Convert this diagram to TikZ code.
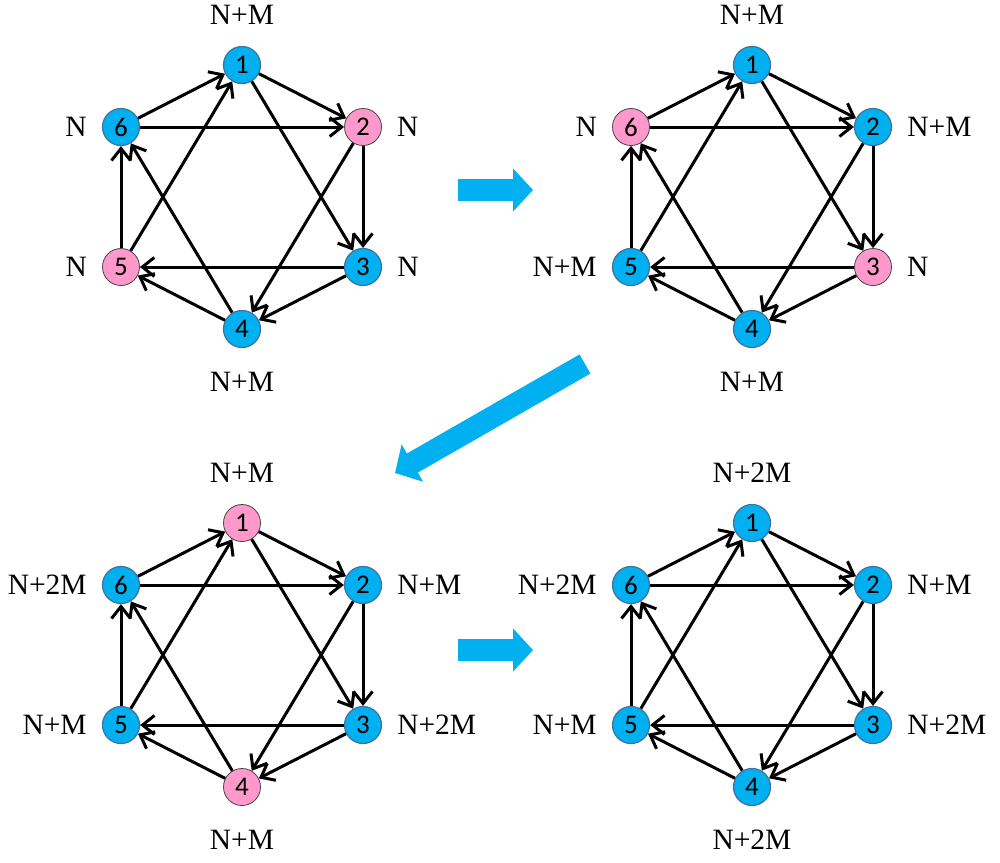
\documentclass[tikz,border=0pt]{standalone}
\usepackage{fontspec}
\setmainfont{Liberation Serif}
\newfontfamily\digitfont{Carlito}
\usepackage{xcolor}
\definecolor{hexblue}{RGB}{0,176,240}
\definecolor{hexedge}{RGB}{65,113,156}
\definecolor{hexpink}{RGB}{255,153,204}
\definecolor{pinkedge}{RGB}{70,70,70}
\usetikzlibrary{positioning,arrows.meta}
\tikzset{
  vtx/.style     ={circle,draw=hexedge,fill=hexblue,line width=1.2pt,minimum size=37pt,
                   inner sep=0pt,font=\digitfont\fontsize{27}{27}\selectfont},
  vtxp/.style    ={vtx,draw=pinkedge,fill=hexpink,line width=0.8pt},
  lbl/.style     ={inner sep=0pt,font=\fontsize{29.5}{30}\selectfont},
  link/.style    ={-{Straight Barb[length=12pt,width=19pt]},line width=3pt},
  bigarrow/.style={-{Triangle[length=20pt,width=42pt]},line width=22pt,draw=hexblue},
}

\begin{document}
\begin{tikzpicture}[x=1pt,y=-1pt]
  \useasboundingbox (0,0) rectangle (1000,862);

  % ---- graph 1 (top left) ----------------------------------------------
  \begin{scope}[shift={(242,197)}]
    \node[vtx]  (a1) at (0,-132)   {1};
    \node[vtxp] (a2) at (121,-70)  {2};
    \node[vtx]  (a3) at (121,70)   {3};
    \node[vtx]  (a4) at (0,132)    {4};
    \node[vtxp] (a5) at (-121,70)  {5};
    \node[vtx]  (a6) at (-121,-70) {6};
  \end{scope}
  \node[lbl,above=21pt of a1] (la1) {N+M};
  \node[lbl,right=15pt of a2] (la2) {N};
  \node[lbl,right=15pt of a3] (la3) {N};
  \node[lbl,below=24pt of a4] (la4) {N+M};
  \node[lbl,left=15pt of a5]  (la5) {N};
  \node[lbl,left=15pt of a6]  (la6) {N};

  % ---- graph 2 (top right) ---------------------------------------------
  \begin{scope}[shift={(752,197)}]
    \node[vtx]  (b1) at (0,-132)   {1};
    \node[vtx]  (b2) at (121,-70)  {2};
    \node[vtxp] (b3) at (121,70)   {3};
    \node[vtx]  (b4) at (0,132)    {4};
    \node[vtx]  (b5) at (-121,70)  {5};
    \node[vtxp] (b6) at (-121,-70) {6};
  \end{scope}
  \node[lbl,above=21pt of b1] (lb1) {N+M};
  \node[lbl,right=15pt of b2] (lb2) {N+M};
  \node[lbl,right=15pt of b3] (lb3) {N};
  \node[lbl,below=24pt of b4] (lb4) {N+M};
  \node[lbl,left=15pt of b5]  (lb5) {N+M};
  \node[lbl,left=15pt of b6]  (lb6) {N};

  % ---- graph 3 (bottom left) -------------------------------------------
  \begin{scope}[shift={(242,655)}]
    \node[vtxp] (c1) at (0,-132)   {1};
    \node[vtx]  (c2) at (121,-70)  {2};
    \node[vtx]  (c3) at (121,70)   {3};
    \node[vtxp] (c4) at (0,132)    {4};
    \node[vtx]  (c5) at (-121,70)  {5};
    \node[vtx]  (c6) at (-121,-70) {6};
  \end{scope}
  \node[lbl,above=21pt of c1] (lc1) {N+M};
  \node[lbl,right=15pt of c2] (lc2) {N+M};
  \node[lbl,right=15pt of c3] (lc3) {N+2M};
  \node[lbl,below=24pt of c4] (lc4) {N+M};
  \node[lbl,left=15pt of c5]  (lc5) {N+M};
  \node[lbl,left=15pt of c6]  (lc6) {N+2M};

  % ---- graph 4 (bottom right) ------------------------------------------
  \begin{scope}[shift={(752,655)}]
    \node[vtx] (d1) at (0,-132)   {1};
    \node[vtx] (d2) at (121,-70)  {2};
    \node[vtx] (d3) at (121,70)   {3};
    \node[vtx] (d4) at (0,132)    {4};
    \node[vtx] (d5) at (-121,70)  {5};
    \node[vtx] (d6) at (-121,-70) {6};
  \end{scope}
  \node[lbl,above=21pt of d1] (ld1) {N+2M};
  \node[lbl,right=15pt of d2] (ld2) {N+M};
  \node[lbl,right=15pt of d3] (ld3) {N+2M};
  \node[lbl,below=24pt of d4] (ld4) {N+2M};
  \node[lbl,left=15pt of d5]  (ld5) {N+M};
  \node[lbl,left=15pt of d6]  (ld6) {N+2M};

  % ---- edges, the same in every graph ----------------------------------
  \foreach \g in {a,b,c,d}
    \foreach \s/\t in {6/1,1/2,6/2,1/3,5/1,2/3,2/4,3/4,3/5,4/5,4/6,5/6}
      \draw[link] (\g\s) -- (\g\t);

  % ---- steps between the graphs ----------------------------------------
  \coordinate (s1) at (458,190);
  \coordinate (e1) at (533,190);
  \coordinate (s2) at (585,364);
  \coordinate (e2) at (395,473);
  \coordinate (s3) at (458,650);
  \coordinate (e3) at (533,650);
  \draw[bigarrow] (s1) -- (e1);
  \draw[bigarrow] (s2) -- (e2);
  \draw[bigarrow] (s3) -- (e3);
\end{tikzpicture}
\end{document}
